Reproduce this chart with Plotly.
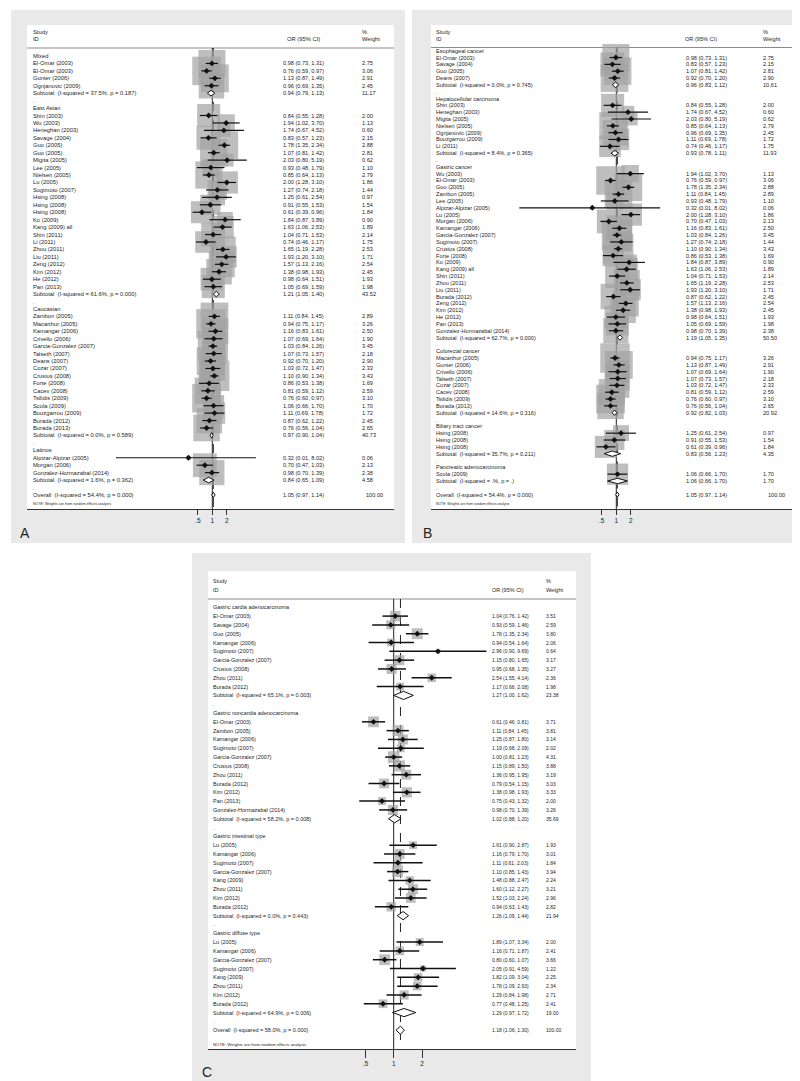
import math
import plotly.graph_objects as go

# ---------------------------------------------------------------- data: panel A (by ethnicity)
A_label = [
    "Mixed",
    "El-Omar (2003)", "El-Omar (2003)", "Gunter (2006)", "Ognjanovic (2009)",
    "Subtotal  (I-squared = 37.5%, p = 0.187)",
    ".",
    "East Asian",
    "Shin (2003)", "Wu (2003)", "Heneghan (2003)", "Savage (2004)", "Guo (2005)", "Guo (2005)",
    "Migita (2005)", "Lee (2005)", "Nielsen (2005)", "Lu (2005)", "Sugimoto (2007)", "Hsing (2008)",
    "Hsing (2008)", "Hsing (2008)", "Ko (2009)", "Kang (2009) all", "Shin (2011)", "Li (2011)",
    "Zhou (2011)", "Liu (2011)", "Zeng (2012)", "Kim (2012)", "He (2012)", "Pan (2013)",
    "Subtotal  (I-squared = 61.6%, p = 0.000)",
    ".",
    "Caucasian",
    "Zambon (2005)", "Macarthur (2005)", "Kamangar (2006)", "Crivello (2006)", "Garcia-Gonzalez (2007)",
    "Talseth (2007)", "Deans (2007)", "Cozar (2007)", "Crusius (2008)", "Forte (2008)", "Cacev (2008)",
    "Tsilidis (2009)", "Scola (2009)", "Bouzgarrou (2009)", "Burada (2012)", "Burada (2013)",
    "Subtotal  (I-squared = 0.0%, p = 0.589)",
    ".",
    "Latinos",
    "Alpizar-Alpizar (2005)", "Morgan (2006)", "Gonzalez-Hormazabal (2014)",
    "Subtotal  (I-squared = 1.6%, p = 0.362)",
    ".",
    "Overall  (I-squared = 54.4%, p = 0.000)",
]
A_or = [None, 0.98, 0.76, 1.13, 0.96, 0.94, None,
        None, 0.84, 1.94, 1.74, 0.83, 1.78, 1.07, 2.03, 0.93, 0.85, 2.00, 1.27, 1.25, 0.91, 0.61,
        1.84, 1.63, 1.04, 0.74, 1.65, 1.93, 1.57, 1.38, 0.98, 1.05, 1.21, None,
        None, 1.11, 0.94, 1.16, 1.07, 1.03, 1.07, 0.92, 1.03, 1.10, 0.86, 0.81, 0.76, 1.06, 1.11,
        0.87, 0.76, 0.97, None,
        None, 0.32, 0.70, 0.98, 0.84, None, 1.05]
A_lo = [None, 0.73, 0.59, 0.87, 0.69, 0.79, None,
        None, 0.55, 1.02, 0.67, 0.57, 1.35, 0.81, 0.80, 0.48, 0.64, 1.28, 0.74, 0.61, 0.55, 0.39,
        0.87, 1.06, 0.71, 0.46, 1.19, 1.20, 1.13, 0.98, 0.64, 0.69, 1.05, None,
        None, 0.84, 0.75, 0.83, 0.69, 0.84, 0.73, 0.70, 0.72, 0.90, 0.53, 0.59, 0.60, 0.66, 0.69,
        0.62, 0.56, 0.90, None,
        None, 0.01, 0.47, 0.70, 0.65, None, 0.97]
A_hi = [None, 1.31, 0.97, 1.49, 1.35, 1.13, None,
        None, 1.28, 3.70, 4.52, 1.23, 2.34, 1.42, 5.19, 1.79, 1.13, 3.10, 2.18, 2.54, 1.53, 0.96,
        3.89, 2.53, 1.53, 1.17, 2.28, 3.10, 2.16, 1.93, 1.51, 1.59, 1.40, None,
        None, 1.45, 1.17, 1.61, 1.64, 1.26, 1.57, 1.20, 1.47, 1.34, 1.38, 1.12, 0.97, 1.70, 1.78,
        1.22, 1.04, 1.04, None,
        None, 8.02, 1.03, 1.39, 1.09, None, 1.14]
A_wt = [None, 2.75, 3.06, 2.91, 2.45, 11.17, None,
        None, 2.00, 1.13, 0.60, 2.15, 2.88, 2.81, 0.62, 1.10, 2.79, 1.86, 1.44, 0.97, 1.54, 1.84,
        0.90, 1.89, 2.14, 1.75, 2.53, 1.71, 2.54, 2.45, 1.93, 1.98, 43.52, None,
        None, 2.89, 3.26, 2.50, 1.90, 3.45, 2.18, 2.90, 2.33, 3.43, 1.69, 2.59, 3.10, 1.70, 1.72,
        2.45, 2.65, 40.73, None,
        None, 0.06, 2.13, 2.38, 4.58, None, 100.00]

# ---------------------------------------------------------------- data: panel B (by cancer type)
B_label = [
    "Esophageal cancer",
    "El-Omar (2003)", "Savage (2004)", "Guo (2005)", "Deans (2007)",
    "Subtotal  (I-squared = 0.0%, p = 0.745)",
    ".",
    "Hepatocellular carcinoma",
    "Shin (2003)", "Heneghan (2003)", "Migita (2005)", "Nielsen (2005)", "Ognjanovic (2009)",
    "Bouzgarrou (2009)", "Li (2011)",
    "Subtotal  (I-squared = 8.4%, p = 0.365)",
    ".",
    "Gastric cancer",
    "Wu (2003)", "El-Omar (2003)", "Guo (2005)", "Zambon (2005)", "Lee (2005)", "Alpizar-Alpizar (2005)",
    "Lu (2005)", "Morgan (2006)", "Kamangar (2006)", "Garcia-Gonzalez (2007)", "Sugimoto (2007)",
    "Crusius (2008)", "Forte (2008)", "Ko (2009)", "Kang (2009) all", "Shin (2011)", "Zhou (2011)",
    "Liu (2011)", "Burada (2012)", "Zeng (2012)", "Kim (2012)", "He (2012)", "Pan (2013)",
    "Gonzalez-Hormazabal (2014)",
    "Subtotal  (I-squared = 62.7%, p = 0.000)",
    ".",
    "Colorectal cancer",
    "Macarthur (2005)", "Gunter (2006)", "Crivello (2006)", "Talseth (2007)", "Cozar (2007)",
    "Cacev (2008)", "Tsilidis (2009)", "Burada (2013)",
    "Subtotal  (I-squared = 14.6%, p = 0.316)",
    ".",
    "Biliary tract cancer",
    "Hsing (2008)", "Hsing (2008)", "Hsing (2008)",
    "Subtotal  (I-squared = 35.7%, p = 0.211)",
    ".",
    "Pancreatic adenocarcinoma",
    "Scola (2009)",
    "Subtotal  (I-squared = .%, p = .)",
    ".",
    "Overall  (I-squared = 54.4%, p = 0.000)",
]
B_or = [None, 0.98, 0.83, 1.07, 0.92, 0.96, None,
        None, 0.84, 1.74, 2.03, 0.85, 0.96, 1.11, 0.74, 0.93, None,
        None, 1.94, 0.76, 1.78, 1.11, 0.93, 0.32, 2.00, 0.70, 1.16, 1.03, 1.27, 1.10, 0.86, 1.84,
        1.63, 1.04, 1.65, 1.93, 0.87, 1.57, 1.38, 0.98, 1.05, 0.98, 1.19, None,
        None, 0.94, 1.13, 1.07, 1.07, 1.03, 0.81, 0.76, 0.76, 0.92, None,
        None, 1.25, 0.91, 0.61, 0.83, None,
        None, 1.06, 1.06, None, 1.05]
B_lo = [None, 0.73, 0.57, 0.81, 0.70, 0.83, None,
        None, 0.55, 0.67, 0.80, 0.64, 0.69, 0.69, 0.46, 0.78, None,
        None, 1.02, 0.59, 1.35, 0.84, 0.48, 0.01, 1.28, 0.47, 0.83, 0.84, 0.74, 0.90, 0.53, 0.87,
        1.06, 0.71, 1.19, 1.20, 0.62, 1.13, 0.98, 0.64, 0.69, 0.70, 1.05, None,
        None, 0.75, 0.87, 0.69, 0.73, 0.72, 0.59, 0.60, 0.56, 0.82, None,
        None, 0.61, 0.55, 0.39, 0.56, None,
        None, 0.66, 0.66, None, 0.97]
B_hi = [None, 1.31, 1.23, 1.42, 1.20, 1.12, None,
        None, 1.28, 4.52, 5.19, 1.13, 1.35, 1.78, 1.17, 1.11, None,
        None, 3.70, 0.97, 2.34, 1.45, 1.79, 8.02, 3.10, 1.03, 1.61, 1.26, 2.18, 1.34, 1.38, 3.89,
        2.53, 1.53, 2.28, 3.10, 1.22, 2.16, 1.93, 1.51, 1.59, 1.39, 1.35, None,
        None, 1.17, 1.49, 1.64, 1.57, 1.47, 1.12, 0.97, 1.04, 1.03, None,
        None, 2.54, 1.53, 0.96, 1.23, None,
        None, 1.70, 1.70, None, 1.14]
B_wt = [None, 2.75, 2.15, 2.81, 2.90, 10.61, None,
        None, 2.00, 0.60, 0.62, 2.79, 2.45, 1.72, 1.75, 11.93, None,
        None, 1.13, 3.06, 2.88, 2.89, 1.10, 0.06, 1.86, 2.13, 2.50, 3.45, 1.44, 3.43, 1.69, 0.90,
        1.89, 2.14, 2.53, 1.71, 2.45, 2.54, 2.45, 1.93, 1.98, 2.38, 50.50, None,
        None, 3.26, 2.91, 1.90, 2.18, 2.33, 2.59, 3.10, 2.65, 20.92, None,
        None, 0.97, 1.54, 1.84, 4.35, None,
        None, 1.70, 1.70, None, 100.00]

# ---------------------------------------------------------------- data: panel C (gastric subsites)
C_label = [
    "Gastric cardia adenocarcinoma",
    "El-Omar (2003)", "Savage (2004)", "Guo (2005)", "Kamangar (2006)", "Sugimoto (2007)",
    "Garcia-Gonzalez (2007)", "Crusius (2008)", "Zhou (2011)", "Burada (2012)",
    "Subtotal  (I-squared = 65.1%, p = 0.003)",
    ".",
    "Gastric noncardia adenocarcinoma",
    "El-Omar (2003)", "Zambon (2005)", "Kamangar (2006)", "Sugimoto (2007)", "Garcia-Gonzalez (2007)",
    "Crusius (2008)", "Zhou (2011)", "Burada (2012)", "Kim (2012)", "Pan (2013)",
    "Gonzalez-Hormazabal (2014)",
    "Subtotal  (I-squared = 58.2%, p = 0.008)",
    ".",
    "Gastric intestinal type",
    "Lu (2005)", "Kamangar (2006)", "Sugimoto (2007)", "Garcia-Gonzalez (2007)", "Kang (2009)",
    "Zhou (2011)", "Kim (2012)", "Burada (2012)",
    "Subtotal  (I-squared = 0.0%, p = 0.443)",
    ".",
    "Gastric diffuse type",
    "Lu (2005)", "Kamangar (2006)", "Garcia-Gonzalez (2007)", "Sugimoto (2007)", "Kang (2009)",
    "Zhou (2011)", "Kim (2012)", "Burada (2012)",
    "Subtotal  (I-squared = 64.9%, p = 0.006)",
    ".",
    "Overall  (I-squared = 58.0%, p = 0.000)",
]
C_or = [None, 1.04, 0.93, 1.78, 0.94, 2.96, 1.15, 0.95, 2.54, 1.17, 1.27, None,
        None, 0.61, 1.11, 1.25, 1.19, 1.00, 1.15, 1.36, 0.79, 1.38, 0.75, 0.98, 1.02, None,
        None, 1.61, 1.16, 1.11, 1.10, 1.48, 1.60, 1.52, 0.94, 1.26, None,
        None, 1.89, 1.16, 0.80, 2.05, 1.82, 1.78, 1.29, 0.77, 1.29, None, 1.18]
C_lo = [None, 0.76, 0.59, 1.35, 0.54, 0.90, 0.80, 0.68, 1.55, 0.66, 1.00, None,
        None, 0.46, 0.84, 0.87, 0.68, 0.81, 0.89, 0.95, 0.54, 0.98, 0.43, 0.70, 0.88, None,
        None, 0.90, 0.79, 0.61, 0.85, 0.88, 1.12, 1.03, 0.63, 1.09, None,
        None, 1.07, 0.71, 0.60, 0.91, 1.09, 1.09, 0.84, 0.48, 0.97, None, 1.06]
C_hi = [None, 1.42, 1.46, 2.34, 1.64, 9.69, 1.65, 1.35, 4.14, 2.08, 1.62, None,
        None, 0.81, 1.45, 1.80, 2.09, 1.23, 1.50, 1.95, 1.15, 1.93, 1.32, 1.39, 1.20, None,
        None, 2.87, 1.70, 2.03, 1.43, 2.47, 2.27, 2.24, 1.43, 1.44, None,
        None, 3.34, 1.87, 1.07, 4.59, 3.04, 2.93, 1.98, 1.25, 1.72, None, 1.30]
C_wt = [None, 3.51, 2.59, 3.80, 2.06, 0.64, 3.17, 3.27, 2.36, 1.98, 23.38, None,
        None, 3.71, 3.81, 3.14, 2.02, 4.31, 3.88, 3.19, 3.03, 3.33, 2.00, 3.26, 35.69, None,
        None, 1.93, 3.01, 1.84, 3.94, 2.24, 3.21, 2.96, 2.82, 21.94, None,
        None, 2.00, 2.41, 3.66, 1.22, 2.25, 2.34, 2.71, 2.41, 19.00, None, 100.00]

TICK_VALS = [0.5, 1, 2]
TICK_TEXT = [".5", "1", "2"]
NOTE_TEXT = "NOTE: Weights are from random effects analysis"

# ---------------------------------------------------------------- layout (pixels)
W, H = 800, 1081
FONT = "Liberation Sans, Arial, sans-serif"
TXT = "#262626"
BOX = "#a3a3a3"


def fx(x):
    return x / W


def fy(y):
    return 1 - y / H


PANELS = [
    dict(tag="A", label=A_label, orv=A_or, lo=A_lo, hi=A_hi, wt=A_wt,
         gray=(3, 2, 397, 535), white=(19, 17, 386, 501), row0=48.0, dy=7.44,
         one=204.3, dec=48.17, c_lab=25, c_or=275, c_orh=279, c_wt=354, wt_ov_shift=4,
         y_study=24, y_id=31, y_hl=40, y_note=496, fs=5.8, fs_num=5.6, fs_note=3.6,
         box_k=16.3, dh=2.8, ticklen=5, tickfs=6.5, ci_w=1.2, pt=4.5, tag_xy=(12, 525)),
    dict(tag="B", label=B_label, orv=B_or, lo=B_lo, hi=B_hi, wt=B_wt,
         gray=(404, 2, 797, 535), white=(423, 17, 790, 501), row0=42.7, dy=6.83,
         one=608.3, dec=48.5, c_lab=428, c_or=678, c_orh=677, c_wt=755, wt_ov_shift=5,
         y_study=24, y_id=31, y_hl=39.5, y_note=496, fs=5.6, fs_num=5.6, fs_note=3.4,
         box_k=16.3, dh=2.7, ticklen=5, tickfs=6.5, ci_w=1.2, pt=4.5, tag_xy=(415, 525)),
    dict(tag="C", label=C_label, orv=C_or, lo=C_lo, hi=C_hi, wt=C_wt,
         gray=(184, 545, 583, 1078), white=(200, 563, 568, 1041), row0=599.3, dy=8.81,
         one=385.7, dec=94.0, c_lab=205, c_or=484, c_orh=484, c_wt=538, wt_ov_shift=0,
         y_study=572.5, y_id=582, y_hl=591, y_note=1036.5, fs=5.5, fs_num=5.0, fs_note=4.3,
         box_k=5.6, dh=4.1, ticklen=8, tickfs=6.5, ci_w=1.5, pt=4.5, tag_xy=(194, 1064)),
]

fig = go.Figure()
shapes = []
annos = []
layout_axes = {}


def add_text(text, x, y, yref, size, xanchor="left"):
    annos.append(dict(text=text, x=x, y=y, xref="paper", yref=yref, xanchor=xanchor,
                      yanchor="middle", showarrow=False, borderpad=0, borderwidth=0,
                      font=dict(family=FONT, size=size, color=TXT)))


for i, P in enumerate(PANELS, start=1):
    xs = "x" if i == 1 else f"x{i}"
    ys = "y" if i == 1 else f"y{i}"
    xk = "xaxis" if i == 1 else f"xaxis{i}"
    yk = "yaxis" if i == 1 else f"yaxis{i}"
    n = len(P["label"])
    for arr in ("orv", "lo", "hi", "wt"):
        assert len(P[arr]) == n, (P["tag"], arr, len(P[arr]), n)

    gx0, gy0, gx1, gy1 = P["gray"]
    wx0, wy0, wx1, wy1 = P["white"]

    def row_at(ypx, P=P):
        return 1 + (ypx - P["row0"]) / P["dy"]

    rows = list(range(1, n + 1))
    kinds = []
    for lab, o in zip(P["label"], P["orv"]):
        if lab.startswith("Overall"):
            kinds.append("overall")
        elif lab.startswith("Subtotal"):
            kinds.append("sub")
        elif o is None:
            kinds.append("text")
        else:
            kinds.append("study")
    ov_idx = kinds.index("overall")
    overall = P["orv"][ov_idx]

    # backgrounds
    shapes.append(dict(type="rect", xref="paper", yref="paper", x0=fx(gx0), x1=fx(gx1),
                       y0=fy(gy1), y1=fy(gy0), fillcolor="#e9e9e9", line=dict(width=0), layer="below"))
    shapes.append(dict(type="rect", xref="paper", yref="paper", x0=fx(wx0), x1=fx(wx1),
                       y0=fy(wy1), y1=fy(wy0), fillcolor="white", line=dict(width=0), layer="below"))
    shapes.append(dict(type="line", xref="paper", yref="paper", x0=fx(wx0), x1=fx(wx1),
                       y0=fy(P["y_hl"]), y1=fy(P["y_hl"]), line=dict(color="#8c8c8c", width=1),
                       layer="below"))

    # axes
    layout_axes[xk] = dict(
        type="log", domain=[fx(wx0), fx(wx1)],
        range=[(wx0 - P["one"]) / P["dec"], (wx1 - P["one"]) / P["dec"]],
        anchor=ys, showgrid=False, zeroline=False, showline=True, linecolor="#333333",
        linewidth=1, ticks="outside", ticklen=P["ticklen"], tickwidth=1, tickcolor="#333333",
        tickvals=TICK_VALS, ticktext=TICK_TEXT,
        tickfont=dict(family=FONT, size=P["tickfs"], color=TXT), fixedrange=True)
    layout_axes[yk] = dict(
        domain=[fy(wy1), fy(wy0)], range=[row_at(wy1), row_at(wy0)], anchor=xs,
        visible=False, showgrid=False, zeroline=False, fixedrange=True)

    top_r = row_at(P["y_hl"])
    bot_r = row_at(wy1)
    # null line and overall (dashed) line
    fig.add_trace(go.Scatter(x=[1, 1], y=[top_r, bot_r], mode="lines", xaxis=xs, yaxis=ys,
                             line=dict(color="#222222", width=1), hoverinfo="skip"))
    fig.add_trace(go.Scatter(x=[overall, overall], y=[top_r, bot_r], mode="lines", xaxis=xs,
                             yaxis=ys, line=dict(color="#222222", width=1, dash="dash"),
                             hoverinfo="skip"))

    st = [k for k, kind in enumerate(kinds) if kind == "study"]
    # weight boxes
    fig.add_trace(go.Scatter(
        x=[P["orv"][k] for k in st], y=[rows[k] for k in st], mode="markers", xaxis=xs, yaxis=ys,
        marker=dict(symbol="square", color=BOX,
                    size=[P["box_k"] * math.sqrt(P["wt"][k]) for k in st], line=dict(width=0)),
        hoverinfo="skip"))
    # confidence intervals
    cx, cy = [], []
    for k in st:
        cx += [P["lo"][k], P["hi"][k], None]
        cy += [rows[k], rows[k], None]
    fig.add_trace(go.Scatter(x=cx, y=cy, mode="lines", xaxis=xs, yaxis=ys,
                             line=dict(color="#111111", width=P["ci_w"]), hoverinfo="skip"))
    # point estimates
    fig.add_trace(go.Scatter(
        x=[P["orv"][k] for k in st], y=[rows[k] for k in st], mode="markers", xaxis=xs, yaxis=ys,
        marker=dict(symbol="diamond", color="#111111", size=P["pt"], line=dict(width=0)),
        hoverinfo="skip"))
    # pooled diamonds
    h = P["dh"] / P["dy"]
    for k, kind in enumerate(kinds):
        if kind in ("sub", "overall"):
            o, lo, hi, r = P["orv"][k], P["lo"][k], P["hi"][k], rows[k]
            fig.add_trace(go.Scatter(
                x=[lo, o, hi, o, lo], y=[r, r - h, r, r + h, r], mode="lines", fill="toself",
                fillcolor="white", xaxis=xs, yaxis=ys, line=dict(color="#111111", width=1),
                hoverinfo="skip"))

    # header
    add_text("Study", fx(P["c_lab"]), fy(P["y_study"]), "paper", P["fs"])
    add_text("ID", fx(P["c_lab"]), fy(P["y_id"]), "paper", P["fs"])
    add_text("OR (95% CI)", fx(P["c_orh"]), fy(P["y_id"]), "paper", P["fs"])
    add_text("%", fx(P["c_wt"]), fy(P["y_study"]), "paper", P["fs"])
    add_text("Weight", fx(P["c_wt"]), fy(P["y_id"]), "paper", P["fs"])

    # row texts
    for k, kind in enumerate(kinds):
        add_text(P["label"][k], fx(P["c_lab"]), rows[k], ys, P["fs"])
        if kind != "text":
            o, lo, hi, w = P["orv"][k], P["lo"][k], P["hi"][k], P["wt"][k]
            add_text(f"{o:.2f} ({lo:.2f}, {hi:.2f})", fx(P["c_or"]), rows[k], ys, P["fs_num"])
            shift = P["wt_ov_shift"] if kind == "overall" else 0
            add_text(f"{w:.2f}", fx(P["c_wt"] + shift), rows[k], ys, P["fs_num"])
    add_text(NOTE_TEXT, fx(P["c_lab"]), fy(P["y_note"]), "paper", P["fs_note"])

    # panel tag
    annos.append(dict(text=P["tag"], x=fx(P["tag_xy"][0]), y=fy(P["tag_xy"][1]), xref="paper",
                      yref="paper", xanchor="left", yanchor="middle", showarrow=False,
                      borderpad=0, borderwidth=0,
                      font=dict(family=FONT, size=14, color="#222222")))

fig.update_layout(
    width=W, height=H, margin=dict(l=0, r=0, t=0, b=0), showlegend=False,
    paper_bgcolor="white", plot_bgcolor="rgba(0,0,0,0)",
    shapes=shapes, annotations=annos, **layout_axes)

fig.write_html("out.html")
